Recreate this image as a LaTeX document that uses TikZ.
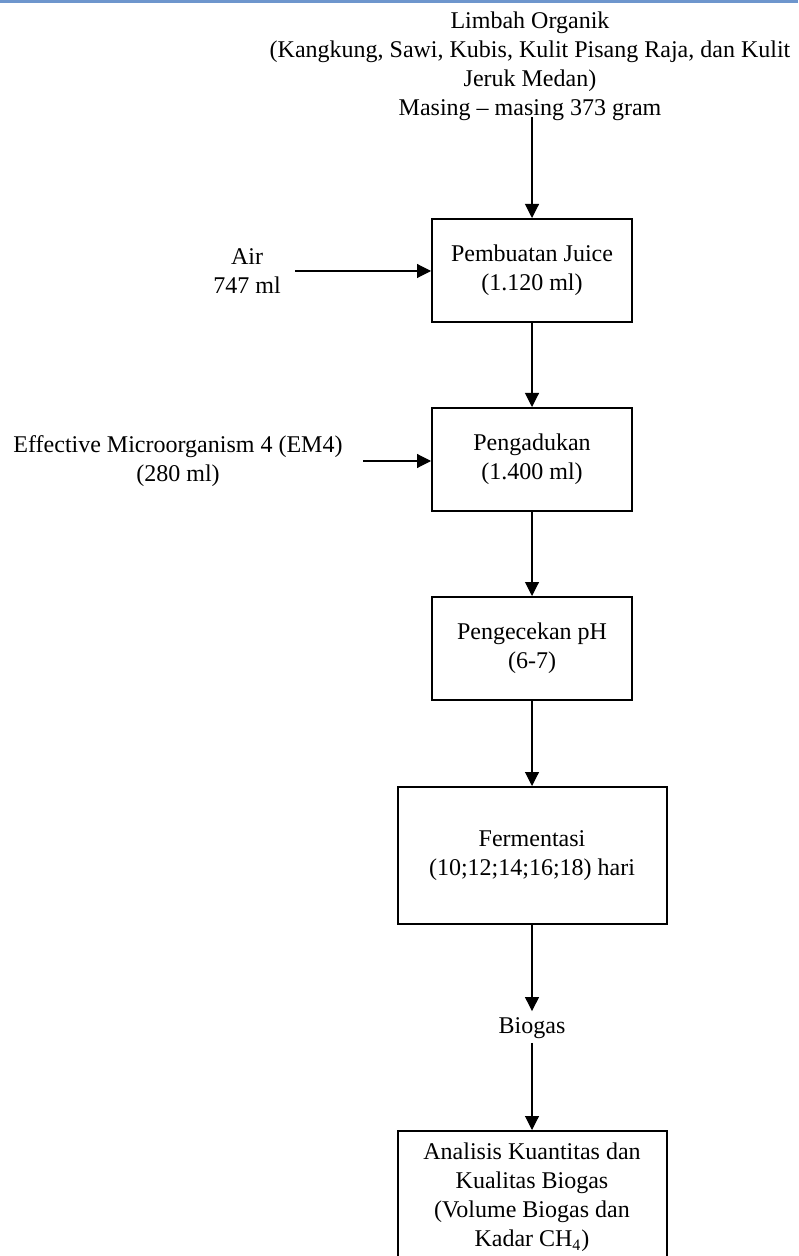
\documentclass[tikz,border=0pt]{standalone}
\usepackage{fontspec}
\setmainfont{Liberation Serif}
\usetikzlibrary{arrows.meta}
\definecolor{topblue}{RGB}{110,150,205}
\begin{document}
\begin{tikzpicture}[x=0.5pt,y=-0.5pt,
  every node/.style={font=\fontsize{12}{14.5}\selectfont, align=center, inner sep=0pt},
  procbox/.style={draw, line width=1pt, minimum width=100pt, minimum height=51.5pt},
  widebox/.style={draw, line width=1pt, minimum width=134.5pt},
  flow/.style={line width=0.55pt, -{Triangle[length=7pt,width=7pt]}},
]
\useasboundingbox (0,0) rectangle (798,1256);
\clip (0,0) rectangle (798,1256);
\fill[topblue] (0,0) rectangle (798,3);

\node (top) at (530,66) {Limbah Organik\\(Kangkung, Sawi, Kubis, Kulit Pisang Raja, dan Kulit\\Jeruk Medan)\\Masing -- masing 373 gram};

\node[procbox] (b1) at (532,270.5) {Pembuatan Juice\\(1.120 ml)};
\node (air) at (247,271) {Air\\747 ml};
\coordinate (airend) at (295,271);

\node[procbox] (b2) at (532,459.5) {Pengadukan\\(1.400 ml)};
\node (em) at (178,461) {Effective Microorganism 4 (EM4)\\(280 ml)};
\coordinate (emend) at (363,461);

\node[procbox] (b3) at (532,648.5) {Pengecekan pH\\(6-7)};

\node[widebox, minimum height=68.5pt] (b4) at (532,855.5) {Fermentasi\\(10;12;14;16;18) hari};

\node (bio) at (532,1028) {Biogas};

\node[widebox, minimum height=66.5pt, anchor=north] (b5) at (532,1130) {Analisis Kuantitas dan\\Kualitas Biogas\\(Volume Biogas dan\\Kadar CH\textsubscript{4})};

\draw[flow] ([yshift=2pt]top.south -| b1.north) -- (b1.north);
\draw[flow] (airend) -- (airend -| b1.west);
\draw[flow] (b1.south) -- (b2.north);
\draw[flow] (emend) -- (emend -| b2.west);
\draw[flow] (b2.south) -- (b3.north);
\draw[flow] (b3.south) -- (b4.north);
\draw[flow] (b4.south) -- ([yshift=3pt]bio.north);
\draw[flow] ([yshift=-2pt]bio.south) -- (b5.north);
\end{tikzpicture}
\end{document}
